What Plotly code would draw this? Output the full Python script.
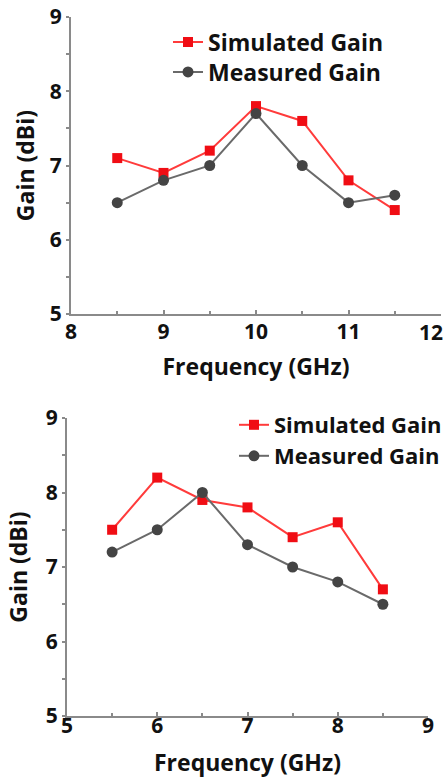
import plotly.graph_objects as go

# ---- data ----
freq_top = [8.5, 9, 9.5, 10, 10.5, 11, 11.5]
sim_top = [7.1, 6.9, 7.2, 7.8, 7.6, 6.8, 6.4]
meas_top = [6.5, 6.8, 7.0, 7.7, 7.0, 6.5, 6.6]

freq_bot = [5.5, 6, 6.5, 7, 7.5, 8, 8.5]
sim_bot = [7.5, 8.2, 7.9, 7.8, 7.4, 7.6, 6.7]
meas_bot = [7.2, 7.5, 8.0, 7.3, 7.0, 6.8, 6.5]

x_ticks_top = [8, 9, 10, 11, 12]
x_ticks_bot = [5, 6, 7, 8, 9]
y_ticks = [5, 6, 7, 8, 9]

W, H = 446, 778
FONT = "Open Sans"
RED_LINE = "#ff3b3b"
RED_MK = "#f00d14"
GRAY_LINE = "#6a6a6a"
GRAY_MK = "#444444"
AX = "#8a8a8a"

fig = go.Figure()

def add_pair(x, s, m, xa, ya, leg_s, leg_m):
    fig.add_trace(go.Scatter(x=x, y=s, name="Simulated Gain", mode="lines+markers",
                             line=dict(color=RED_LINE, width=2),
                             marker=dict(symbol="square", size=10, color=RED_MK),
                             xaxis=xa, yaxis=ya, legend=leg_s, cliponaxis=False, showlegend=True))
    fig.add_trace(go.Scatter(x=x, y=m, name="Measured Gain", mode="lines+markers",
                             line=dict(color=GRAY_LINE, width=2),
                             marker=dict(symbol="circle", size=11, color=GRAY_MK),
                             xaxis=xa, yaxis=ya, legend=leg_m, cliponaxis=False, showlegend=True))

add_pair(freq_top, sim_top, meas_top, "x", "y", "legend", "legend2")
add_pair(freq_bot, sim_bot, meas_bot, "x2", "y2", "legend3", "legend4")

tickfont = dict(family=FONT, size=21, color="#111111", weight="bold")
titlefont = dict(family=FONT, size=23, color="#111111", weight="bold")

def xaxis(dom, anchor, rng, ticks, labels, standoff, lblstand):
    return dict(domain=dom, anchor=anchor, range=rng, tickvals=ticks, ticktext=labels,
                ticklabeloverflow="allow", ticklabelstandoff=lblstand,
                showline=True, linecolor=AX, linewidth=2, showgrid=False, zeroline=False,
                ticks="inside", ticklen=4, tickcolor=AX, tickwidth=1.5,
                minor=dict(ticks="inside", dtick=0.5, ticklen=3, tickcolor=AX, tickwidth=1.5),
                tickfont=tickfont, title=dict(text="Frequency (GHz)", font=titlefont, standoff=standoff))

def yaxis(dom, anchor, standoff):
    return dict(domain=dom, anchor=anchor, range=[5, 9], tickvals=y_ticks, ticklabeloverflow="allow",
                showline=True, linecolor=AX, linewidth=2, showgrid=False, zeroline=False,
                ticks="outside", ticklen=3, tickcolor=AX, tickwidth=1.5,
                minor=dict(ticks="outside", dtick=0.5, ticklen=3, tickcolor=AX, tickwidth=1.5),
                tickfont=tickfont, title=dict(text="Gain (dBi)", font=titlefont, standoff=standoff))

def leg(x_px, yc_px, size):
    return dict(x=x_px / W, y=1 - yc_px / H, xanchor="left", yanchor="middle",
                bgcolor="rgba(0,0,0,0)",
                font=dict(family=FONT, size=size, color="#111111", weight="bold"))

# top axis: last tick label is drawn as an annotation pinned to x=12 so it stays inside the page
top_labels = [str(v) for v in x_ticks_top[:-1]] + [""]

fig.update_layout(
    width=W, height=H,
    showlegend=True,
    margin=dict(l=0, r=0, t=0, b=0, autoexpand=False),
    paper_bgcolor="white", plot_bgcolor="white",
    xaxis=xaxis([71 / W, 441 / W], "y", [8, 12], x_ticks_top, top_labels, 15, -2),
    yaxis=yaxis([1 - 314 / H, 1 - 17 / H], "x", 9),
    xaxis2=xaxis([67 / W, 428 / W], "y2", [5, 9], x_ticks_bot, [str(v) for v in x_ticks_bot], 18, -10),
    yaxis2=yaxis([1 - 716 / H, 1 - 418 / H], "x2", 12),
    legend=leg(168, 42, 23),
    legend2=leg(168, 72, 23),
    legend3=leg(234, 425, 22),
    legend4=leg(234, 456, 22),
)

fig.add_annotation(x=x_ticks_top[-1], xref="x", y=0, yref="y domain", text=str(x_ticks_top[-1]),
                   showarrow=False, xanchor="right", yanchor="top", xshift=4, yshift=-2,
                   font=tickfont)

fig.write_html("out.html")
